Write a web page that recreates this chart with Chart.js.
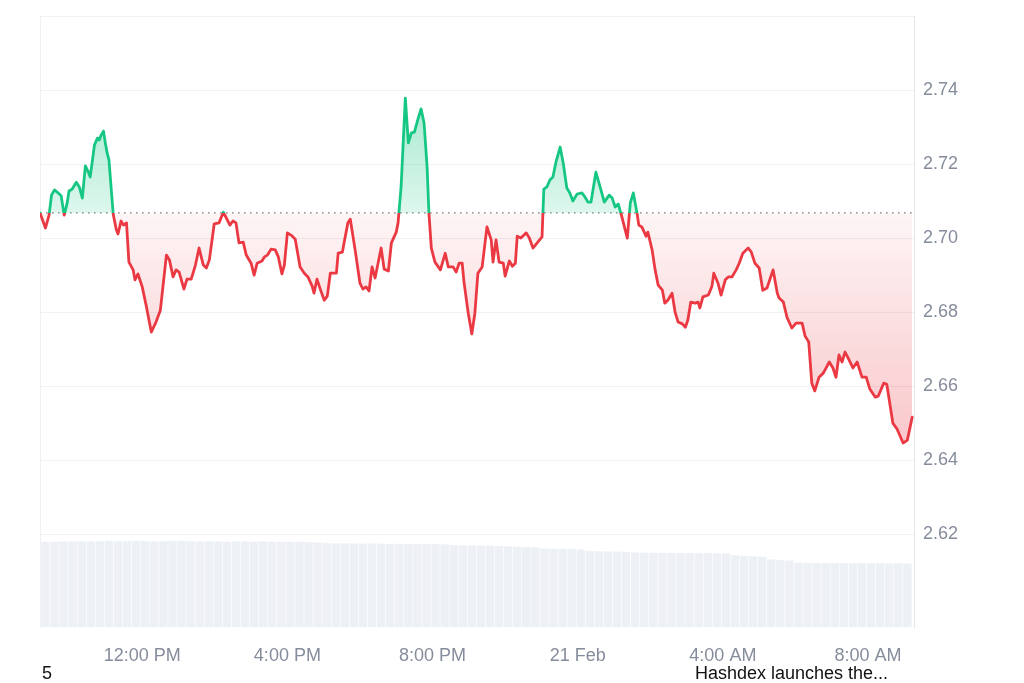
<!DOCTYPE html>
<html>
<head>
<meta charset="utf-8">
<script src="https://cdn.jsdelivr.net/npm/chart.js@4.4.1/dist/chart.umd.min.js"></script>
<style>
  body { margin: 0; background: #fff; }
  #wrap { position: relative; width: 1024px; height: 683px; }
  .note { position: absolute; font-family: "Liberation Sans", Arial, sans-serif; font-size: 18px; line-height: 20px; color: #111; }
</style>
</head>
<body>
<div id="wrap">
  <canvas id="price-chart" width="1024" height="683"></canvas>
  <div class="note" style="left:42px; top:663px;">5</div>
  <div class="note" style="left:695px; top:663px;">Hashdex launches the...</div>
</div>
<script>
const ctx = document.getElementById("price-chart").getContext("2d");

// minutes since midnight, 20 Feb (values past 1440 are on 21 Feb)
const times = [
  551, 560, 566, 570, 575, 583, 586, 591, 596, 599, 604, 611, 616, 621, 626, 631, 634, 641, 646, 649,
  652, 656, 659, 662, 665, 672, 677, 680, 685, 689, 694, 698, 705, 708, 713, 720, 727, 735, 742, 750,
  760, 765, 771, 776, 781, 789,
  794, 801, 808, 814, 821, 826, 831, 839, 847, 854, 860, 865, 870, 875, 880, 887, 892, 900, 905, 910,
  918, 922, 927, 933, 940, 945, 951, 955, 960, 966, 973, 981, 988, 994, 1001, 1004, 1009, 1016, 1021, 1026,
  1031,
  1041, 1044, 1051, 1054, 1060, 1064, 1072, 1080, 1085, 1090, 1095, 1100, 1105, 1115, 1120, 1127, 1132, 1140, 1143, 1148,
  1155, 1160, 1165, 1170, 1176, 1181, 1186, 1191, 1194, 1198, 1204, 1213, 1221, 1226, 1234, 1239, 1244, 1249, 1252, 1259,
  1265, 1270,
  1275, 1282, 1290, 1297, 1300, 1305, 1310, 1317, 1320, 1327, 1332, 1337, 1340, 1346, 1355, 1360, 1366, 1373, 1381, 1384,
  1389, 1394, 1399, 1404, 1411, 1416, 1422, 1427, 1432, 1439, 1447, 1452, 1457, 1462, 1470, 1477, 1484, 1492, 1497, 1502,
  1507, 1513, 1522, 1527, 1532, 1538, 1541, 1546, 1553, 1556, 1563, 1568, 1573, 1580, 1584, 1589, 1596, 1601, 1606, 1613,
  1618, 1622, 1627, 1634, 1639, 1642, 1647, 1656, 1662, 1665, 1672, 1677, 1684, 1689, 1695, 1702, 1707, 1713, 1722, 1727,
  1733, 1740, 1746, 1753, 1763, 1770, 1773, 1780, 1786, 1794, 1801, 1811, 1816, 1822, 1827, 1832, 1839, 1846, 1856, 1862,
  1867, 1872, 1877, 1882, 1887, 1895, 1902, 1910, 1917, 1923, 1932, 1937, 1946, 1951, 1961, 1968, 1978, 1985, 1993,
];

const prices = [
  2.7068, 2.7027, 2.7062, 2.7116, 2.7130, 2.7119, 2.7114, 2.7062, 2.7095, 2.7127, 2.7132, 2.7151, 2.7138, 2.7108, 2.7195, 2.7178, 2.7165, 2.7251, 2.7270, 2.7265,
  2.7278, 2.7289, 2.7257, 2.7230, 2.7211, 2.7065, 2.7024, 2.7011, 2.7046, 2.7035, 2.7041, 2.6935, 2.6914, 2.6887, 2.6903, 2.6868, 2.6814, 2.6746, 2.6770, 2.6805,
  2.6954, 2.6941, 2.6895, 2.6914, 2.6908, 2.6862,
  2.6889, 2.6889, 2.6927, 2.6973, 2.6927, 2.6919, 2.6941, 2.7038, 2.7041, 2.7070, 2.7051, 2.7035, 2.7046, 2.7041, 2.6987, 2.6989, 2.6954, 2.6932, 2.6900, 2.6932,
  2.6938, 2.6949, 2.6954, 2.6970, 2.6968, 2.6949, 2.6903, 2.6927, 2.7014, 2.7008, 2.6997, 2.6922, 2.6905, 2.6895, 2.6870, 2.6851, 2.6889, 2.6854, 2.6832, 2.6843,
  2.6905,
  2.6905, 2.6959, 2.6962, 2.6989, 2.7041, 2.7051, 2.6968, 2.6878, 2.6862, 2.6868, 2.6857, 2.6922, 2.6892, 2.6973, 2.6916, 2.6911, 2.6987, 2.7016, 2.7041, 2.7138,
  2.7378, 2.7257, 2.7284, 2.7286, 2.7322, 2.7349, 2.7311, 2.7192, 2.7068, 2.6973, 2.6935, 2.6914, 2.6959, 2.6922, 2.6922, 2.6908, 2.6932, 2.6932, 2.6881, 2.6797,
  2.6741, 2.6797,
  2.6905, 2.6922, 2.7030, 2.6995, 2.6935, 2.6995, 2.6935, 2.6932, 2.6897, 2.6938, 2.6924, 2.6932, 2.7005, 2.7000, 2.7014, 2.7000, 2.6973, 2.6987, 2.7003, 2.7132,
  2.7138, 2.7157, 2.7165, 2.7205, 2.7246, 2.7203, 2.7135, 2.7122, 2.7100, 2.7119, 2.7122, 2.7111, 2.7097, 2.7097, 2.7178, 2.7138, 2.7097, 2.7116, 2.7108, 2.7084,
  2.7092, 2.7057, 2.7000, 2.7095, 2.7122, 2.7068, 2.7035, 2.7030, 2.7005, 2.7016, 2.6968, 2.6914, 2.6873, 2.6859, 2.6824, 2.6832, 2.6851, 2.6800, 2.6773, 2.6768,
  2.6759, 2.6778, 2.6827, 2.6824, 2.6827, 2.6811, 2.6841, 2.6846, 2.6870, 2.6905, 2.6878, 2.6846, 2.6887, 2.6895, 2.6895, 2.6914, 2.6932, 2.6959, 2.6973, 2.6962,
  2.6932, 2.6919, 2.6859, 2.6865, 2.6914, 2.6851, 2.6838, 2.6827, 2.6786, 2.6757, 2.6770, 2.6770, 2.6735, 2.6719, 2.6608, 2.6587, 2.6624, 2.6635, 2.6665, 2.6649,
  2.6624, 2.6684, 2.6665, 2.6692, 2.6676, 2.6649, 2.6665, 2.6624, 2.6624, 2.6592, 2.6570, 2.6573, 2.6608, 2.6605, 2.6500, 2.6484, 2.6446, 2.6454, 2.6516,
];

// 15 minute volume bars (24h volume, million USD)
const volTimes = [
  560, 575, 590, 605, 620, 635, 650, 665, 680, 695, 710, 725, 740, 755, 770, 785, 800, 815, 830, 845,
  860, 875, 890, 905, 920, 935, 950, 965, 980, 995, 1010, 1025, 1040, 1055, 1070, 1085, 1100, 1115, 1130, 1145,
  1160, 1175, 1190, 1205, 1220, 1235, 1250, 1265, 1280, 1295, 1310, 1325, 1340, 1355, 1370, 1385, 1400, 1415, 1430, 1445,
  1460, 1475, 1490, 1505, 1520, 1535, 1550, 1565, 1580, 1595, 1610, 1625, 1640, 1655, 1670, 1685, 1700, 1715, 1730, 1745,
  1760, 1775, 1790, 1805, 1820, 1835, 1850, 1865, 1880, 1895, 1910, 1925, 1940, 1955, 1970, 1985,
];
const volumes = [
  4170, 4190, 4200, 4200, 4210, 4200, 4210, 4220, 4210, 4210, 4220, 4210, 4200, 4210, 4220, 4220, 4210, 4200, 4210, 4200,
  4190, 4200, 4200, 4190, 4200, 4190, 4180, 4190, 4180, 4170, 4150, 4110, 4100, 4110, 4100, 4090, 4100, 4090, 4080, 4090,
  4080, 4070, 4080, 4070, 4060, 4020, 4010, 4000, 3990, 3990, 3980, 3960, 3950, 3930, 3910, 3860, 3840, 3830, 3830, 3810,
  3740, 3720, 3710, 3700, 3690, 3660, 3650, 3650, 3640, 3640, 3630, 3630, 3620, 3630, 3620, 3610, 3520, 3490, 3470, 3450,
  3320, 3290, 3260, 3160, 3150, 3150, 3140, 3140, 3140, 3130, 3140, 3130, 3130, 3120, 3130, 3120,
];

const tickTimes = [720, 960, 1200, 1440, 1680, 1920];
const tickLabels = ["12:00 PM", "4:00 PM", "8:00 PM", "21 Feb", "4:00 AM", "8:00 AM"];
const priceTicks = [2.62, 2.64, 2.66, 2.68, 2.70, 2.72, 2.74, 2.76];

const startTime = 551;
const endTime = 1996;
const openPrice = prices[0];
const green = "#16c784";
const red = "#ea3943";

Chart.defaults.font.family = '"Liberation Sans", Arial, sans-serif';
Chart.defaults.font.size = 18;

let linePoints = times.map((t, i) => ({ x: t, y: prices[i] }));
let volPoints = volTimes.map((t, i) => ({ x: t, y: volumes[i] }));

let config = {
  type: "line",
  data: {
    datasets: [
      {
        label: "Price",
        data: linePoints,
        borderColor: red,
        borderWidth: 2.8,
        borderJoinStyle: "round",
        borderCapStyle: "round",
        pointRadius: 0,
        tension: 0,
        fill: { target: { value: openPrice }, above: "rgba(22,199,132,0.25)", below: "rgba(234,57,67,0.1)" },
        yAxisID: "y",
        order: 0,
      },
      {
        label: "Open",
        data: [{ x: startTime, y: openPrice }, { x: endTime, y: openPrice }],
        borderColor: "#7d7d7d",
        borderWidth: 1.3,
        borderDash: [1.6, 4.4],
        pointRadius: 0,
        fill: false,
        yAxisID: "y",
        order: 1,
      },
      {
        type: "bar",
        label: "Volume",
        data: volPoints,
        backgroundColor: "#edf0f4",
        barPercentage: 0.93,
        categoryPercentage: 1,
        yAxisID: "yv",
        order: 2,
      },
    ],
  },
  options: {
    responsive: false,
    animation: false,
    layout: { padding: { left: 40, top: 16 } },
    plugins: { legend: { display: false }, tooltip: { enabled: false } },
    scales: {
      x: {
        type: "linear",
        offset: false,
        min: startTime,
        max: endTime,
        grid: { display: false, offset: false },
        border: { display: false },
        afterBuildTicks: (scale) => {
          scale.ticks = tickTimes.map((v) => ({ value: v }));
        },
        afterFit: (scale) => {
          scale.height = 56;
        },
        ticks: {
          color: "#858c9b",
          padding: 10,
          maxRotation: 0,
          autoSkip: false,
          callback: (v, i) => tickLabels[i],
        },
      },
      y: {
        position: "right",
        min: 2.5949,
        max: 2.76,
        afterBuildTicks: (scale) => {
          scale.ticks = priceTicks.map((v) => ({ value: v }));
        },
        afterFit: (scale) => {
          scale.width = 110;
          scale.paddingTop = 0;
          scale.paddingBottom = 0;
        },
        grid: { color: "#eff1f4", drawTicks: false },
        border: { color: "#e3e6ea" },
        ticks: {
          color: "#858c9b",
          padding: 9,
          callback: (v) => (v > 2.755 ? "" : v.toFixed(2)),
        },
      },
      yv: {
        position: "left",
        min: 0,
        max: 30000,
        grid: { display: false },
        ticks: { display: false },
        border: { color: "#eef0f3" },
        afterFit: (scale) => {
          scale.width = 0;
        },
      },
    },
  },
};

let myChart = new Chart(ctx, config);

// colour the line green above the open price and red below it
function applyGradients() {
  const area = myChart.chartArea;
  const yScale = myChart.scales.y;
  const baseY = yScale.getPixelForValue(openPrice);
  const topY = yScale.getPixelForValue(Math.max(...prices));
  const lowY = yScale.getPixelForValue(Math.min(...prices));
  const stop = (baseY - area.top) / (area.bottom - area.top);

  const stroke = ctx.createLinearGradient(0, area.top, 0, area.bottom);
  stroke.addColorStop(0, green);
  stroke.addColorStop(stop, green);
  stroke.addColorStop(stop, red);
  stroke.addColorStop(1, red);

  const up = ctx.createLinearGradient(0, topY, 0, baseY);
  up.addColorStop(0, "rgba(22,199,132,0.38)");
  up.addColorStop(1, "rgba(22,199,132,0.14)");

  const down = ctx.createLinearGradient(0, baseY, 0, lowY);
  down.addColorStop(0, "rgba(234,57,67,0.05)");
  down.addColorStop(1, "rgba(234,57,67,0.28)");

  const ds = myChart.data.datasets[0];
  ds.borderColor = stroke;
  ds.fill = { target: { value: openPrice }, above: up, below: down };
  myChart.update();
}

applyGradients();
</script>
</body>
</html>
